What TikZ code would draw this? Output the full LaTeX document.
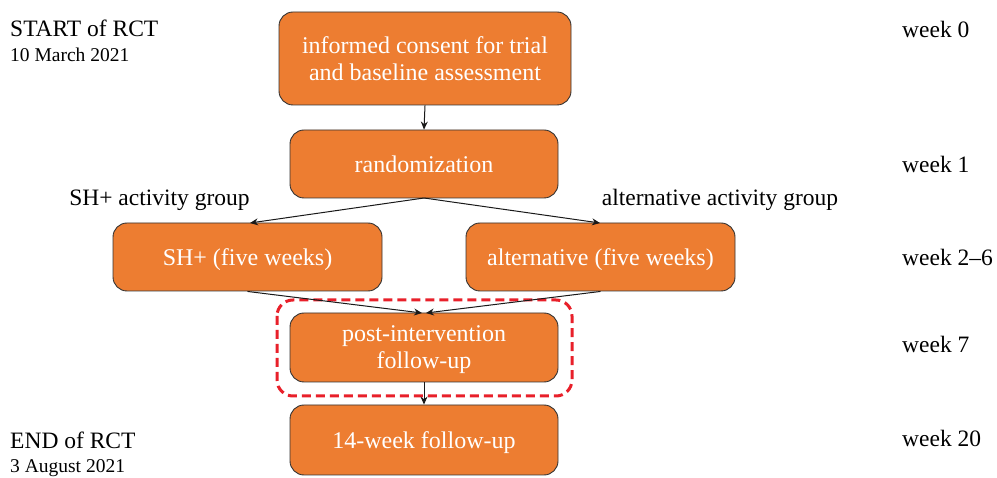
\documentclass[tikz,border=0pt]{standalone}
\usepackage{fontspec}
\setmainfont{Liberation Serif}
\usetikzlibrary{arrows.meta}
\definecolor{boxor}{HTML}{ED7D31}
\definecolor{dashred}{HTML}{E8202A}
\begin{document}
\begin{tikzpicture}[x=1pt,y=-1pt,
  stepbox/.style={draw=black!80,line width=0.9pt,fill=boxor,rounded corners=14pt,
    text=white,font=\fontsize{24}{27}\selectfont,align=center,inner sep=0pt,text depth=0pt},
  lbl/.style={font=\fontsize{23.5}{27}\selectfont,inner sep=0pt,text height=16pt,text depth=5pt},
  datelbl/.style={font=\fontsize{19.5}{23}\selectfont,inner sep=0pt,text height=13pt,text depth=4pt},
  conn/.style={draw=black!90,line width=1pt,-{Stealth[length=8pt,width=7pt]}}]
\useasboundingbox (0,0) rectangle (997,478);
% boxes
\node[stepbox,minimum width=292pt,minimum height=93pt] (consent) at (425,58.5)
  {informed consent for trial\\and baseline assessment};
\node[stepbox,minimum width=268pt,minimum height=68pt] (rand) at (424,164) {randomization};
\node[stepbox,minimum width=269pt,minimum height=68pt] (sh) at (247.5,257) {SH+ (five weeks)};
\node[stepbox,minimum width=269pt,minimum height=68pt] (alt) at (600.5,257) {alternative (five weeks)};
\node[stepbox,minimum width=268pt,minimum height=69pt] (post) at (424,347.5) {post-intervention\\follow-up};
\node[stepbox,minimum width=268pt,minimum height=70pt] (fu) at (424,440) {14-week follow-up};
% dashed highlight
\draw[dashred,line width=3pt,dash pattern=on 9pt off 5pt,rounded corners=16pt] (277,300) rectangle (572,396);
% connectors
\coordinate (rb) at (424,198);
\coordinate (shin) at (250,223);
\coordinate (altin) at (600,223);
\coordinate (pin1) at (422,313);
\coordinate (pin2) at (426,313);
\draw[conn] (consent.south) -- (rand.north);
\draw[conn] (rb) -- (shin);
\draw[conn] (rb) -- (altin);
\draw[conn] (sh.south) -- (pin1);
\draw[conn] (alt.south) -- (pin2);
\draw[conn] (post.south) -- (fu.north);
% left labels
\node[lbl,anchor=west] (start) at (10,31) {START of RCT};
\node[datelbl,anchor=west] (sdate) at (10,57) {10 March 2021};
\node[lbl,anchor=west] (endl) at (10,443) {END of RCT};
\node[datelbl,anchor=west] (edate) at (10,468) {3 August 2021};
\node[lbl] (shlbl) at (159.5,200) {SH+ activity group};
\node[lbl] (altlbl) at (720,200) {alternative activity group};
% week labels
\node[lbl,anchor=west] (w0) at (902,32) {week 0};
\node[lbl,anchor=west] (w1) at (902,167) {week 1};
\node[lbl,anchor=west] (w2) at (902,260) {week 2–6};
\node[lbl,anchor=west] (w7) at (902,347) {week 7};
\node[lbl,anchor=west] (w20) at (902,441) {week 20};
\end{tikzpicture}
\end{document}
